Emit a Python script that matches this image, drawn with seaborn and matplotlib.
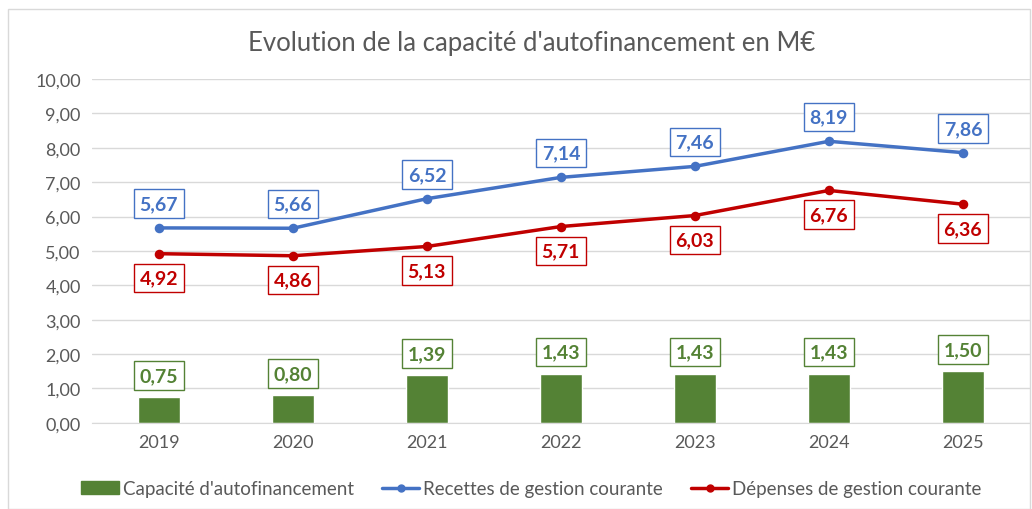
import numpy as np
import pandas as pd
import matplotlib
matplotlib.use("Agg")
import matplotlib.pyplot as plt
import matplotlib.patches as mpatches
from matplotlib.lines import Line2D
import seaborn as sns

years = ['2019', '2020', '2021', '2022', '2023', '2024', '2025']
caf = [0.75, 0.80, 1.39, 1.43, 1.43, 1.43, 1.50]
recettes = [5.67, 5.66, 6.52, 7.14, 7.46, 8.19, 7.86]
depenses = [4.92, 4.86, 5.13, 5.71, 6.03, 6.76, 6.36]

green = '#548235'
blue = '#4472C4'
red = '#C00000'
grey_txt = '#595959'

sns.set_style('white')
plt.rcParams['font.family'] = ['Lato', 'DejaVu Sans']

fig = plt.figure(figsize=(10.32, 5.10), dpi=100)
ax = fig.add_axes([0.089, 0.169, 0.909, 0.674])

df = pd.DataFrame({'year': years, 'caf': caf, 'rec': recettes, 'dep': depenses})

sns.barplot(data=df, x='year', y='caf', color=green, saturation=1, width=0.31, ax=ax, zorder=2)
sns.pointplot(data=df, x='year', y='rec', color=blue, markers='o', markersize=5,
              linewidth=2.5, ax=ax, zorder=3)
sns.pointplot(data=df, x='year', y='dep', color=red, markers='o', markersize=5,
              linewidth=2.5, ax=ax, zorder=3)

def fmt(v):
    return f'{v:.2f}'.replace('.', ',')

def label(i, v, col, dy):
    ax.annotate(fmt(v), (i, v), xytext=(0, dy), textcoords='offset points',
                ha='center', va='center', fontsize=14, fontweight='bold', color=col,
                bbox=dict(boxstyle='square,pad=0.3', fc='white', ec=col, lw=1),
                zorder=5)

for i in range(len(years)):
    label(i, caf[i], green, 15.5)
    label(i, recettes[i], blue, 17.5)
    label(i, depenses[i], red, -17.5)

ax.set_ylim(0, 10)
ax.set_xlim(-0.5, 6.5)
ax.set_yticks(np.arange(0, 10.01, 1))
ax.set_yticklabels([fmt(v) for v in np.arange(0, 10.01, 1)])
ax.grid(axis='y', color='#D9D9D9', lw=1, zorder=0)
ax.set_axisbelow(True)
ax.tick_params(axis='both', labelsize=13, colors=grey_txt, length=0, pad=8)
ax.set_xlabel('')
ax.set_ylabel('')
for s in ['top', 'right', 'left']:
    ax.spines[s].set_visible(False)
ax.spines['bottom'].set_color('#D9D9D9')

fig.text(0.515, 0.915, "Evolution de la capacité d'autofinancement en M€",
         ha='center', va='center', fontsize=18.5, color=grey_txt)

handles = [
    mpatches.Patch(color=green, label="Capacité d'autofinancement"),
    Line2D([], [], color=blue, lw=2.5, marker='o', ms=5, label='Recettes de gestion courante'),
    Line2D([], [], color=red, lw=2.5, marker='o', ms=5, label='Dépenses de gestion courante'),
]
leg = fig.legend(handles=handles, loc='center', bbox_to_anchor=(0.515, 0.04), ncol=3,
                 frameon=False, fontsize=13.5, handlelength=2.0, handletextpad=0.2,
                 columnspacing=1.5)
for t in leg.get_texts():
    t.set_color(grey_txt)

fig.patches.append(mpatches.Rectangle((0.008, 0.0), 0.99, 0.98, transform=fig.transFigure,
                                      fill=False, ec='#D9D9D9', lw=1))

fig.savefig('out.png', dpi=100)
